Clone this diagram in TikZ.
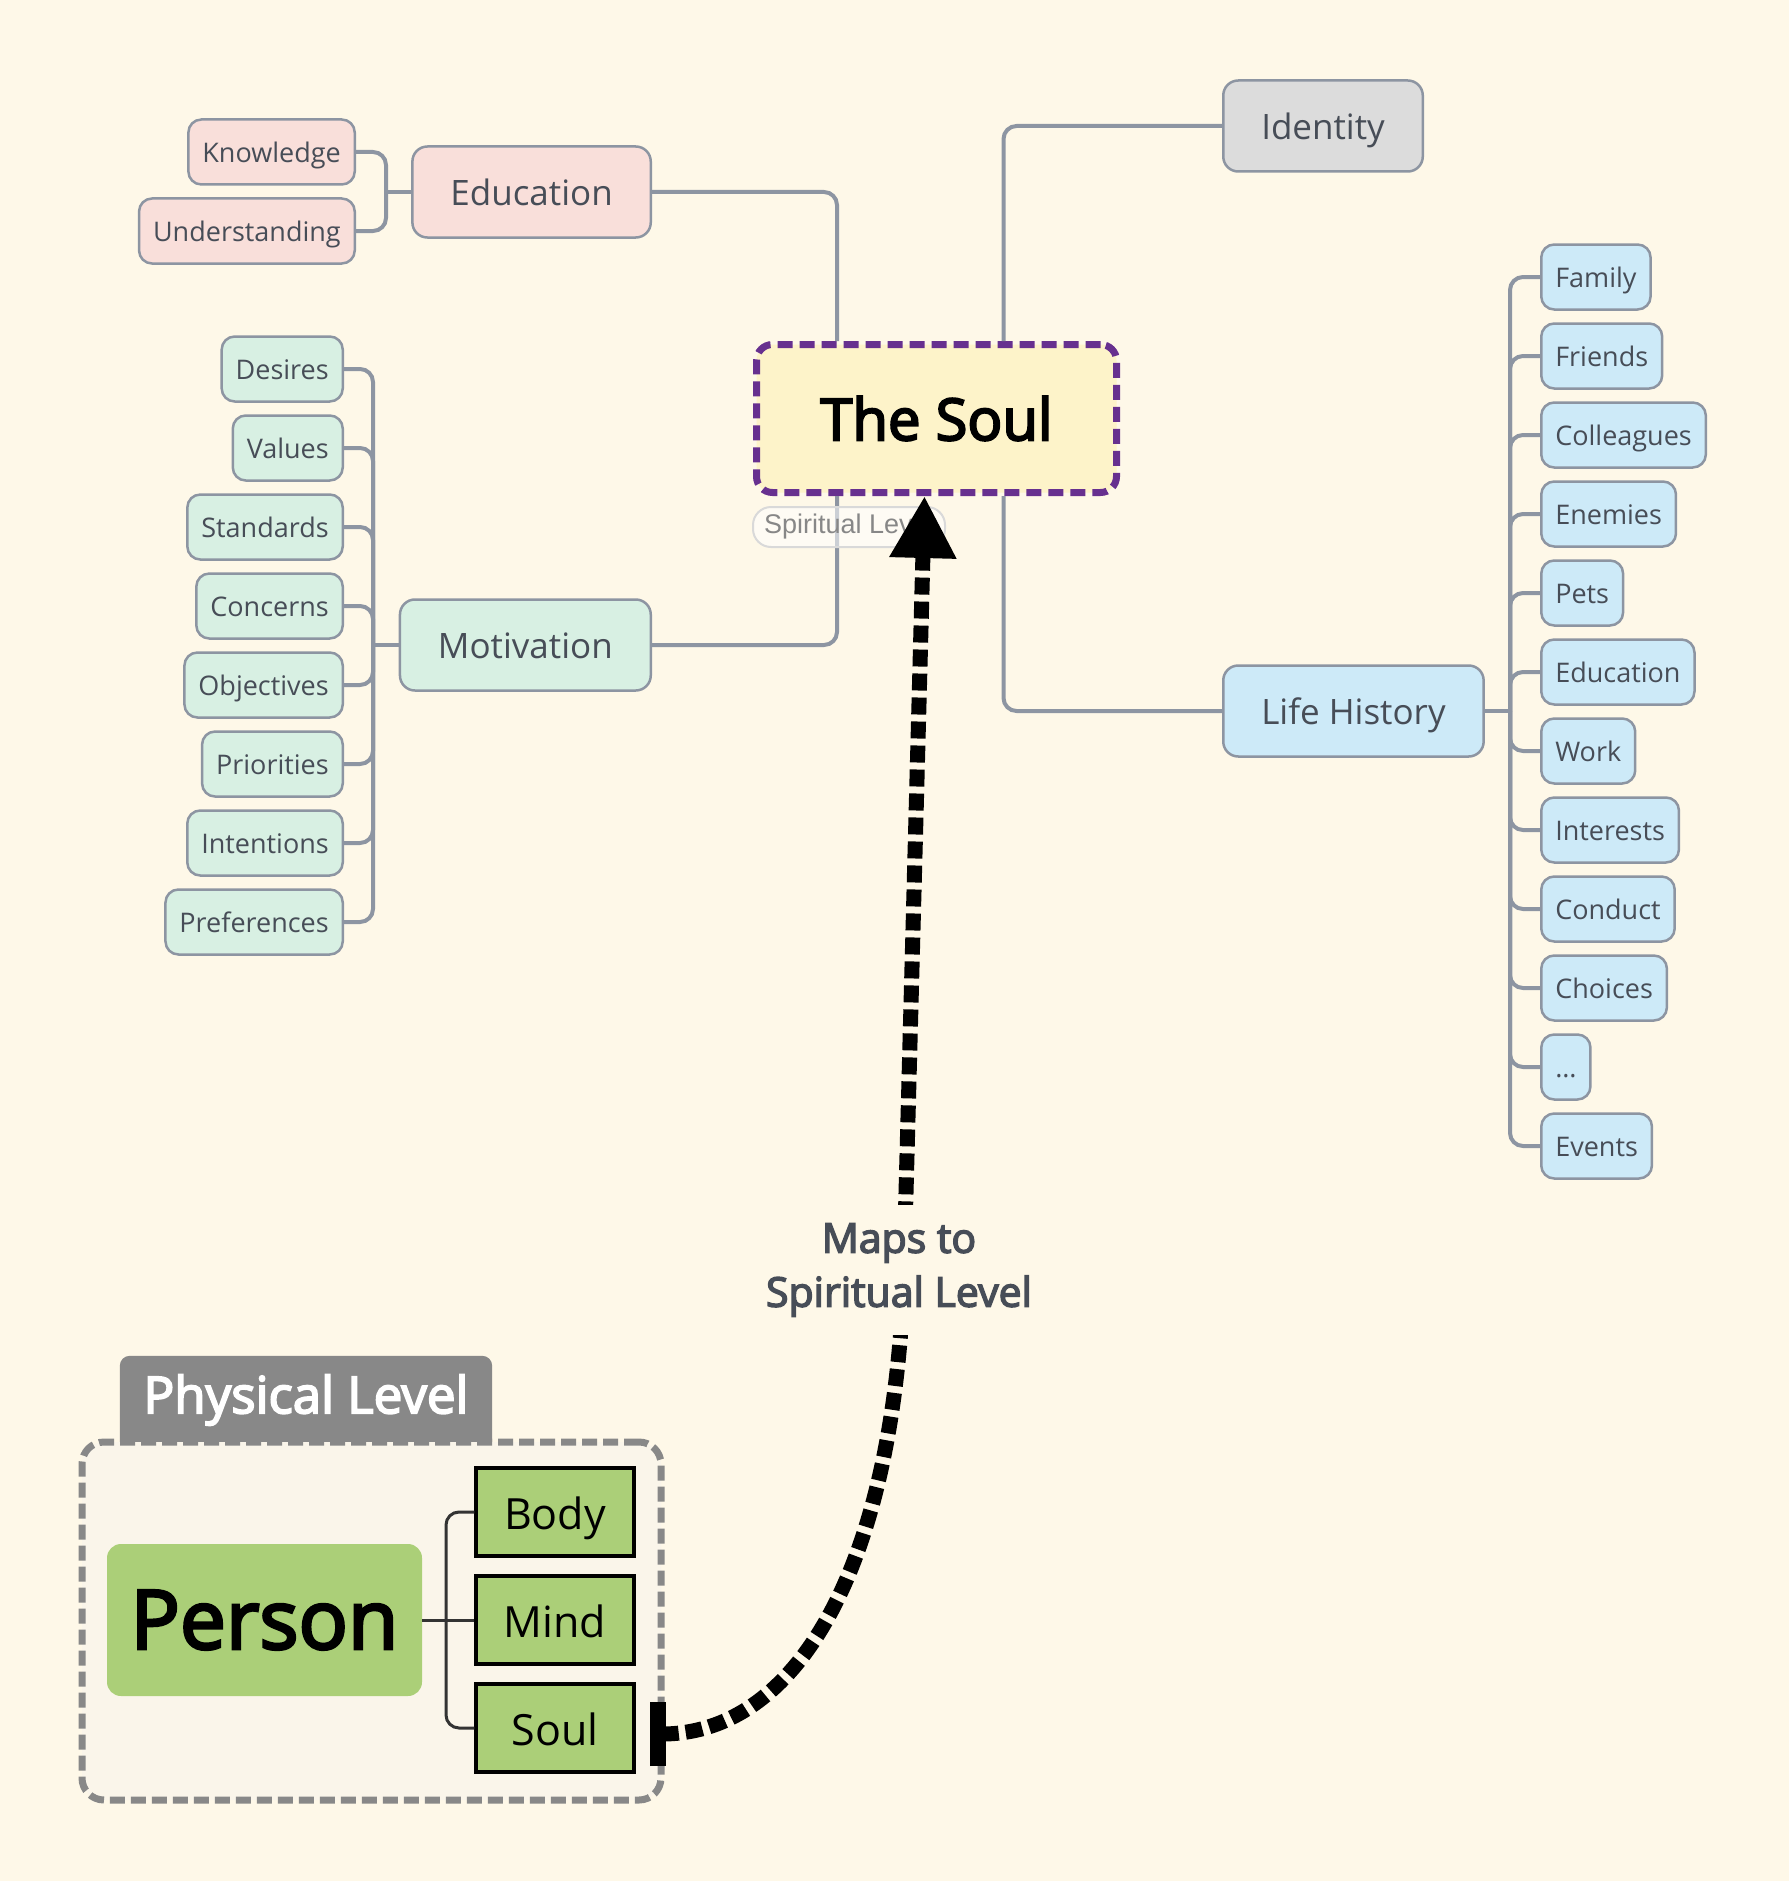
\documentclass[tikz,border=0pt]{standalone}
\usepackage{fontspec}
\setmainfont{Open Sans}
\newfontfamily\semib{Open Sans}[FakeBold=3.5]
\newfontfamily\arialf{Liberation Sans}
\usetikzlibrary{arrows.meta,backgrounds,calc}
\definecolor{bg}{HTML}{FEF8E8}
\definecolor{lineg}{HTML}{8D95A2}
\definecolor{txt}{HTML}{474D57}
\definecolor{pinkf}{HTML}{F9DFDA}
\definecolor{mintf}{HTML}{D8F0E3}
\definecolor{greyf}{HTML}{DCDCDC}
\definecolor{bluef}{HTML}{CDEAF8}
\definecolor{soulf}{HTML}{FDF3C9}
\definecolor{purp}{HTML}{67308F}
\definecolor{greenf}{HTML}{ABCF78}
\definecolor{tabg}{HTML}{888888}
\definecolor{contf}{HTML}{FAF5EA}
\newcommand{\ellip}{\char"2026}
\tikzset{
  conn/.style={draw=lineg, line width=4pt, rounded corners=13pt},
  leaf/.style={draw=lineg, line width=2.5pt, rounded corners=13pt, text=txt,
    font=\fontsize{27}{32}\selectfont, minimum height=65pt, inner xsep=14pt, inner ysep=0pt,
    text height=21pt, text depth=0pt},
  cat/.style={draw=lineg, line width=2.5pt, rounded corners=15pt, text=txt,
    font=\fontsize{35}{42}\selectfont, minimum height=91pt, inner xsep=38pt, inner ysep=0pt,
    text height=27pt, text depth=0pt},
  pinkn/.style={fill=pinkf},
  mintn/.style={fill=mintf},
  bluen/.style={fill=bluef},
  greyn/.style={fill=greyf},
  soulbox/.style={draw=purp, line width=7pt, dash pattern=on 15pt off 7pt, fill=soulf,
    rounded corners=16pt, minimum width=360pt, minimum height=148pt,
    font=\semib\fontsize{58}{64}\selectfont, text=black},
  tagbox/.style={draw=black!15, line width=2pt, fill=white, fill opacity=0.55, text opacity=1,
    rounded corners=18pt, minimum width=192pt, minimum height=40pt, inner sep=0pt,
    font=\arialf\fontsize{27}{30}\selectfont, text=black!47},
  part/.style={draw=black, line width=3.5pt, fill=greenf, minimum width=158pt, minimum height=88pt,
    font=\fontsize{43}{50}\selectfont, text=black, inner sep=0pt, text height=35pt, text depth=0pt},
  personbox/.style={fill=greenf, rounded corners=14pt, minimum width=315pt, minimum height=152pt,
    font=\semib\fontsize{82}{88}\selectfont, text=black, inner sep=0pt},
  contbox/.style={draw=tabg, line width=7pt, dash pattern=on 15pt off 6pt, fill=contf,
    rounded corners=22pt, minimum width=579pt, minimum height=358pt},
  tabtext/.style={minimum width=372pt, minimum height=88pt, inner sep=0pt,
    font=\semib\fontsize{51}{56}\selectfont, text=white},
  pconn/.style={draw=black!80, line width=3pt, rounded corners=13pt},
  maparrow/.style={draw=black, line width=15pt, dash pattern=on 17pt off 7pt,
    {Bar[width=64pt,line width=16pt]}-{Triangle[length=62pt,width=63pt]}},
  mapslabel/.style={fill=bg, align=center, inner xsep=6pt, inner ysep=18pt, text=txt,
    font=\semib\fontsize{41}{54}\selectfont},
}
\begin{document}
\begin{tikzpicture}[x=1pt,y=-1pt]
\begin{scope}[on background layer]
  \fill[bg] (0,0) rectangle (1789,1881);
\end{scope}
\useasboundingbox (0,0) rectangle (1789,1881);

% central node
\node[soulbox] (soul) at (936.5,418.5) {The Soul};

% Education branch
\node[cat,pinkn,anchor=east] (edu) at (652,192) {Education};
\node[leaf,pinkn,anchor=east] (kn) at (356,152) {Knowledge};
\node[leaf,pinkn,anchor=east] (und) at (356,231) {Understanding};
\coordinate (eb) at (386,192);
\draw[conn] (edu.west) -- (eb);
\draw[conn] (kn.east) -| (eb);
\draw[conn] (und.east) -| (eb);
\draw[conn] (edu.east) -| ([xshift=-99.5pt]soul.north);

% Identity
\node[cat,greyn,anchor=west] (iden) at (1222,126) {Identity};
\draw[conn] (iden.west) -| ([xshift=67pt]soul.north);

% Motivation branch
\node[cat,mintn,anchor=east] (mot) at (652,645) {Motivation};
\coordinate (mb) at (373,645);
\draw[conn] (mot.west) -- (mb);
\foreach \n/\t/\y in {m1/Desires/369, m2/Values/448, m3/Standards/527, m4/Concerns/606,
    m5/Objectives/685, m6/Priorities/764, m7/Intentions/843, m8/Preferences/922}{
  \node[leaf,mintn,anchor=east] (\n) at (344,\y) {\t};
  \draw[conn] (\n.east) -| (mb);
}
\draw[conn] (mot.east) -| ([xshift=-99.5pt]soul.south);

% Life History branch
\node[cat,bluen,anchor=west] (life) at (1222,711) {Life History};
\coordinate (lb) at (1510,711);
\draw[conn] (life.east) -- (lb);
\foreach \n/\t/\y in {l1/Family/277, l2/Friends/356, l3/Colleagues/435, l4/Enemies/514,
    l5/Pets/593, l6/Education/672, l7/Work/751, l8/Interests/830, l9/Conduct/909,
    l10/Choices/988, l11/\ellip/1067, l12/Events/1146}{
  \node[leaf,bluen,anchor=west] (\n) at (1540,\y) {\t};
  \draw[conn] (\n.west) -| (lb);
}
\draw[conn] (life.west) -| ([xshift=67pt]soul.south);

% tag under the soul
\node[tagbox] (tagsl) at (849,527) {Spiritual Level};

% Physical level
\node[tabtext] (tab) at (306,1400) {Physical Level};
\begin{scope}[on background layer]
  \fill[tabg] ([yshift=2pt]tab.south west) {[rounded corners=10pt] -- (tab.north west) -- (tab.north east)} -- ([yshift=2pt]tab.south east) -- cycle;
\end{scope}
\node[contbox] (phys) at (371.5,1621) {};
\node[personbox] (person) at (264.5,1620) {Person};
\node[part] (body) at (555,1512) {Body};
\node[part] (mind) at (555,1620) {Mind};
\node[part] (psoul) at (555,1728) {Soul};
\coordinate (pb) at (446,1620);
\draw[pconn] (person.east) -- (pb);
\draw[pconn] (body.west) -| (pb);
\draw[pconn] (mind.west) -- (pb);
\draw[pconn] (psoul.west) -| (pb);

% mapping arrow
\coordinate (tail) at ([xshift=14pt,yshift=-6pt]psoul.east);
\coordinate (bend) at (904,1268);
\draw[maparrow] (tail) .. controls (800,1734) and (896,1560) .. (bend) -- ([xshift=-12pt]soul.south);
\node[mapslabel] (maps) at (899,1270) {Maps to\\Spiritual Level};
\end{tikzpicture}
\end{document}
